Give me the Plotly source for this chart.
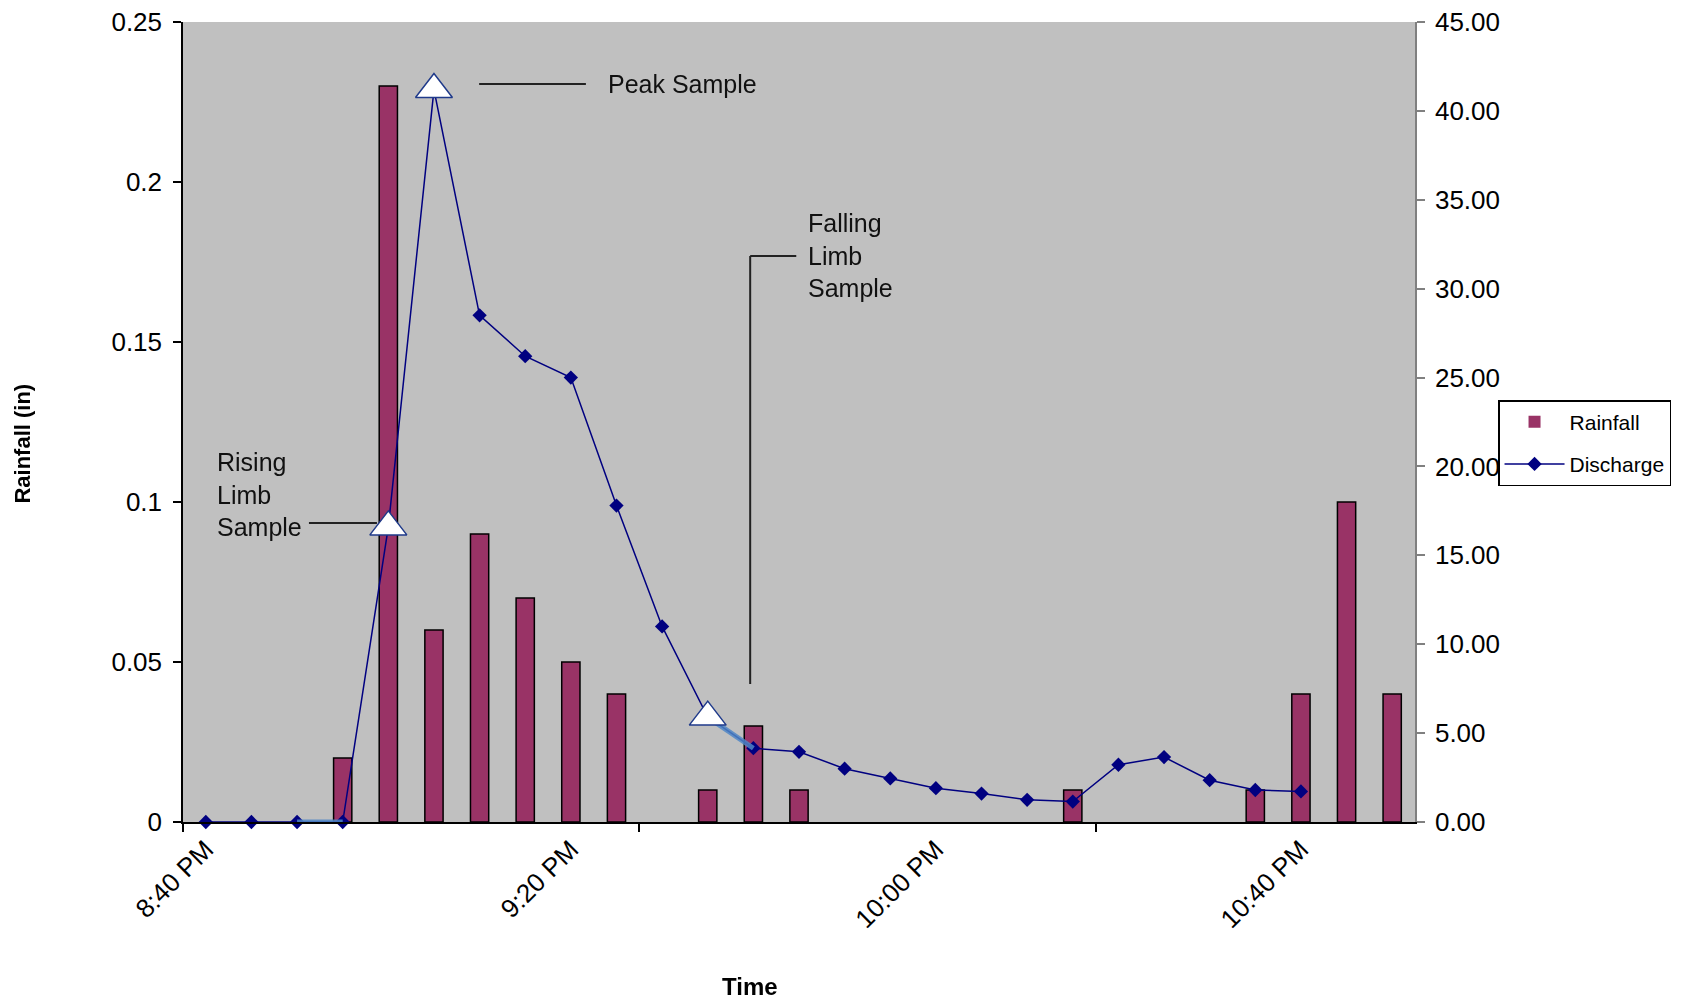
import plotly.graph_objects as go

# Storm event, 5-minute readings from 8:40 PM to 10:50 PM
times = [
    "8:40 PM", "8:45 PM", "8:50 PM", "8:55 PM", "9:00 PM", "9:05 PM", "9:10 PM",
    "9:15 PM", "9:20 PM", "9:25 PM", "9:30 PM", "9:35 PM", "9:40 PM", "9:45 PM",
    "9:50 PM", "9:55 PM", "10:00 PM", "10:05 PM", "10:10 PM", "10:15 PM", "10:20 PM",
    "10:25 PM", "10:30 PM", "10:35 PM", "10:40 PM", "10:45 PM", "10:50 PM",
]
rainfall_in = [
    0, 0, 0, 0.02, 0.23, 0.06, 0.09, 0.07, 0.05, 0.04, 0, 0.01, 0.03, 0.01,
    0, 0, 0, 0, 0, 0.01, 0, 0, 0, 0.01, 0.04, 0.10, 0.04,
]
discharge = [
    0.0, 0.0, 0.0, 0.0, 16.6, 41.2, 28.5, 26.2, 25.0, 17.8, 11.0, 5.9, 4.15, 3.95,
    3.0, 2.45, 1.9, 1.6, 1.25, 1.15, 3.22, 3.65, 2.35, 1.8, 1.72, None, None,
]
# Sampling times (indices into the series above)
sample_idx = [4, 5, 11]
sample_names = ["Rising Limb Sample", "Peak Sample", "Falling Limb Sample"]
# Highlighted stretches of the hydrograph
highlight_spans = [(2, 3), (11, 12)]

label_step = 8
x = list(range(len(times)))

FONT = "Liberation Sans, Arial, sans-serif"
NAVY = "#000080"

fig = go.Figure()

# zero-rain intervals get no outline so they stay invisible
bar_outline = [1.5 if v > 0 else 0 for v in rainfall_in]
fig.add_trace(go.Bar(
    x=x, y=rainfall_in, name="Rainfall", width=0.4, legendgroup="rain",
    marker=dict(color="#993366", line=dict(color="#000000", width=bar_outline)),
    yaxis="y",
))

fig.add_trace(go.Scatter(
    x=x, y=discharge, name="Discharge", mode="lines+markers", legendgroup="flow",
    line=dict(color=NAVY, width=1.5),
    marker=dict(symbol="diamond", size=11, color=NAVY),
    yaxis="y2", connectgaps=False, cliponaxis=False,
))

hx, hy = [], []
for a, b in highlight_spans:
    for i in range(a, b + 1):
        hx.append(i)
        hy.append(discharge[i])
    hx.append(None)
    hy.append(None)
fig.add_trace(go.Scatter(
    x=hx, y=hy, mode="lines", showlegend=False, hoverinfo="skip",
    line=dict(color="#4F86C6", width=5), opacity=0.85, yaxis="y2",
    cliponaxis=False,
))

fig.add_trace(go.Scatter(
    x=sample_idx, y=[discharge[i] for i in sample_idx],
    text=sample_names, mode="markers", showlegend=False,
    marker=dict(symbol="triangle-up", size=32, color="#FFFFFF",
                line=dict(color="#1F3A8A", width=1.5)),
    yaxis="y2", cliponaxis=False,
))

# Callout text and leader lines
ann_font = dict(family=FONT, size=25, color="#111111")
annotations = [
    dict(x=8.78, y=0.2306, xref="x", yref="y", text="Peak Sample",
         showarrow=False, xanchor="left", yanchor="middle", font=ann_font),
    dict(x=0.2, y=0.1025, xref="x", yref="y", text="Rising<br>Limb<br>Sample",
         showarrow=False, xanchor="left", yanchor="middle", align="left", font=ann_font),
    dict(x=13.15, y=0.1769, xref="x", yref="y", text="Falling<br>Limb<br>Sample",
         showarrow=False, xanchor="left", yanchor="middle", align="left", font=ann_font),
    dict(x=0.46, y=-0.206, xref="paper", yref="paper", text="<b>Time</b>",
         showarrow=False, xanchor="center", yanchor="middle",
         font=dict(family=FONT, size=24, color="#000000")),
    dict(x=-0.131, y=0.4725, xref="paper", yref="paper", text="<b>Rainfall (in)</b>",
         showarrow=False, textangle=-90, xanchor="center", yanchor="middle",
         font=dict(family=FONT, size=22, color="#000000")),
]
leader = dict(color="#222222", width=2)
shapes = [
    dict(type="line", xref="x", yref="y", x0=5.99, x1=8.33, y0=0.2306, y1=0.2306, line=leader),
    dict(type="line", xref="x", yref="y", x0=2.26, x1=3.75, y0=0.0934, y1=0.0934, line=leader),
    dict(type="line", xref="x", yref="y", x0=11.93, x1=11.93, y0=0.1769, y1=0.0431, line=leader),
    dict(type="line", xref="x", yref="y", x0=11.93, x1=12.94, y0=0.1769, y1=0.1769, line=leader),
]

tick_font = dict(family=FONT, size=26, color="#000000")
fig.update_layout(
    width=1687, height=1004,
    margin=dict(l=183, r=272, t=22, b=182, autoexpand=False),
    paper_bgcolor="#FFFFFF", plot_bgcolor="#C0C0C0",
    font=dict(family=FONT, size=24, color="#000000"),
    showlegend=True,
    legend=dict(
        x=1.0674, y=0.5275, xanchor="left", yanchor="top",
        bgcolor="#FFFFFF", bordercolor="#000000", borderwidth=1.5,
        font=dict(family=FONT, size=21, color="#000000"),
        tracegroupgap=12, itemwidth=60,
    ),
    xaxis=dict(
        range=[-0.5, len(times) - 0.5],
        tickvals=x[::label_step], ticktext=times[::label_step],
        tickangle=-45, ticks="", showgrid=False, zeroline=False,
        showline=True, linecolor="#000000", linewidth=1.5,
        tickfont=tick_font,
    ),
    xaxis2=dict(
        overlaying="x", range=[-0.5, len(times) - 0.5],
        tickvals=[-0.5, 9.5, 19.5], showticklabels=False,
        ticks="outside", ticklen=9, tickwidth=1.5, tickcolor="#000000",
        showgrid=False, zeroline=False, side="bottom", anchor="y",
    ),
    yaxis=dict(
        range=[0, 0.25], dtick=0.05, ticks="outside", ticklen=8,
        tickwidth=1.5, tickcolor="#000000", showgrid=False, zeroline=False,
        showline=True, linecolor="#000000", linewidth=1.5,
        tickfont=tick_font, ticklabelstandoff=6,
    ),
    yaxis2=dict(
        overlaying="y", side="right", range=[0, 45], dtick=5,
        tickformat=".2f", ticks="outside", ticklen=8, tickwidth=1.5,
        tickcolor="#808080", showgrid=False, zeroline=False,
        showline=True, linecolor="#808080", linewidth=1.5,
        tickfont=tick_font, ticklabelstandoff=5,
    ),
    annotations=annotations,
    shapes=shapes,
)

# the empty trace anchoring the tick-mark axis
fig.add_trace(go.Scatter(x=[None], y=[None], xaxis="x2", showlegend=False, hoverinfo="skip"))

fig.write_html("out.html")
